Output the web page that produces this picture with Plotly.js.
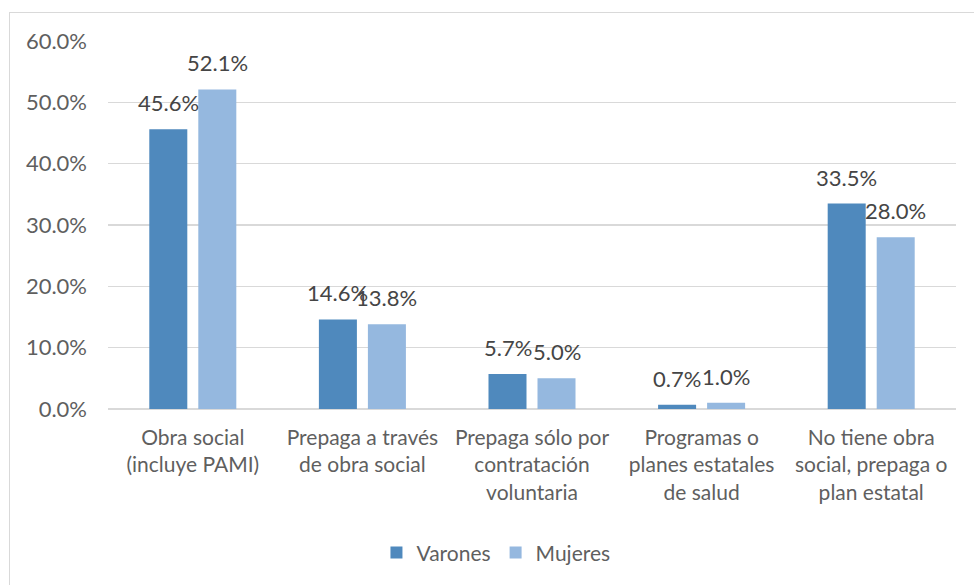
<!DOCTYPE html>
<html>
<head>
<meta charset="utf-8">
<script src="https://cdn.plot.ly/plotly-3.0.1.min.js"></script>
<style>
  html, body { margin: 0; padding: 0; background: #ffffff; overflow: hidden; }
  #wrap { position: relative; width: 974px; height: 585px; overflow: hidden; }
  #frame { position: absolute; left: 9px; top: 12px; width: 1000px; height: 600px;
           border-left: 1px solid #d9d9d9; border-top: 1px solid #d9d9d9; }
  #chart { position: absolute; left: 0; top: 0; width: 974px; height: 585px; }
</style>
</head>
<body>
<div id="wrap">
  <div id="frame"></div>
  <div id="chart"></div>
</div>
<script>
const categories = [
  "Obra social<br>(incluye PAMI)",
  "Prepaga a través<br>de obra social",
  "Prepaga sólo por<br>contratación<br>voluntaria",
  "Programas o<br>planes estatales<br>de salud",
  "No tiene obra<br>social, prepaga o<br>plan estatal"
];
const seriesNames = ["Varones", "Mujeres"];
const varones = [45.6, 14.6, 5.7, 0.7, 33.5];
const mujeres = [52.1, 13.8, 5.0, 1.0, 28.0];
const yTicks = [0, 10, 20, 30, 40, 50, 60];

const colors = ["#4f89bd", "#95b8df"];
const FONT = "Lato, 'Open Sans', sans-serif";
const TEXT = "#5f5f5f";

const traces = [varones, mujeres].map((vals, i) => ({
  type: "bar",
  name: seriesNames[i],
  x: categories,
  y: vals,
  marker: { color: colors[i] },
  hoverinfo: "skip"
}));

const annotations = [];
[varones, mujeres].forEach((vals, s) => {
  vals.forEach((v, k) => {
    annotations.push({
      x: categories[k], y: v, xref: "x", yref: "y",
      text: v.toFixed(1) + "%",
      showarrow: false,
      yanchor: "bottom",
      xanchor: "center",
      xshift: s === 0 ? -24.5 : 24.5,
      yshift: 11,
      font: { family: FONT, size: 22, color: "#454545" }
    });
  });
});

const layout = {
  width: 974, height: 585,
  margin: { l: 108, r: 18, t: 41, b: 176 },
  paper_bgcolor: "rgba(0,0,0,0)",
  plot_bgcolor: "rgba(0,0,0,0)",
  barmode: "group",
  bargap: 0.422,
  bargroupgap: 0.2245,
  font: { family: FONT, size: 21, color: TEXT },
  xaxis: {
    type: "category",
    showgrid: false,
    zeroline: false,
    showline: false,
    ticks: "",
    ticklabelstandoff: 14,
    tickfont: { family: FONT, size: 21, color: TEXT },
    fixedrange: true
  },
  yaxis: {
    range: [0, 60],
    tickvals: yTicks,
    ticktext: yTicks.map(t => t.toFixed(1) + "%"),
    showgrid: true,
    gridcolor: "#d9d9d9",
    gridwidth: 1.5,
    zeroline: true,
    zerolinecolor: "#d9d9d9",
    zerolinewidth: 2,
    showline: false,
    ticks: "",
    ticklabelstandoff: 20,
    tickfont: { family: FONT, size: 22, color: TEXT },
    fixedrange: true
  },
  showlegend: true,
  legend: {
    orientation: "h",
    x: 0.4575, xanchor: "center",
    y: -0.391, yanchor: "middle",
    font: { family: FONT, size: 21, color: TEXT },
    itemwidth: 30,
    bgcolor: "rgba(0,0,0,0)"
  },
  annotations: annotations
};

Plotly.newPlot("chart", traces, layout, { displayModeBar: false, staticPlot: true });
</script>
</body>
</html>
